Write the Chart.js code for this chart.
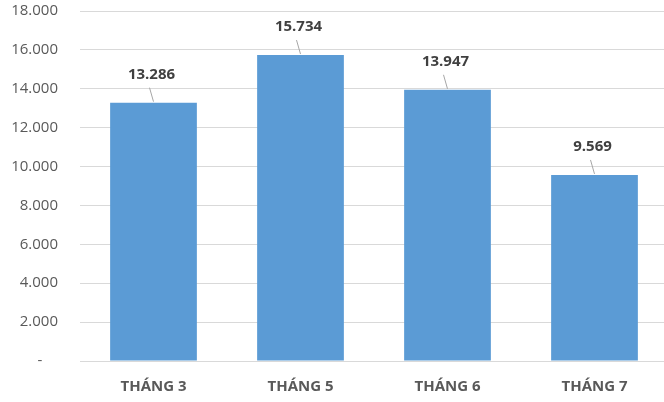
<!DOCTYPE html>
<html>
<head>
<meta charset="utf-8">
<script src="https://cdn.jsdelivr.net/npm/chart.js@4/dist/chart.umd.min.js"></script>
<style>
  html, body { margin: 0; padding: 0; background: #fff; overflow: hidden; }
  #wrap { width: 668px; height: 402px; }
</style>
</head>
<body>
<div id="wrap"><canvas id="myChart"></canvas></div>
<script>
var months = ['THÁNG 3', 'THÁNG 5', 'THÁNG 6', 'THÁNG 7'];
var values = [13286, 15734, 13947, 9569];
var yTicks = [0, 2000, 4000, 6000, 8000, 10000, 12000, 14000, 16000, 18000];

function fmt(v) {
  if (v === 0) return '-    ';
  return v.toString().replace(/\B(?=(\d{3})+(?!\d))/g, '.');
}

// labels above bars with a short leader line, like excel
var barLabels = {
  id: 'barLabels',
  afterDatasetsDraw: function(chart) {
    var ctx = chart.ctx;
    var meta = chart.getDatasetMeta(0);
    ctx.save();
    ctx.font = 'bold 15px "Open Sans", sans-serif';
    ctx.fillStyle = '#404040';
    ctx.textAlign = 'center';
    ctx.textBaseline = 'middle';
    for (var i = 0; i < meta.data.length; i++) {
      var bar = meta.data[i];
      var ly = bar.y - 28;
      ctx.fillText(fmt(values[i]), bar.x - 2, ly);
      ctx.strokeStyle = '#a6a6a6';
      ctx.lineWidth = 1;
      ctx.beginPath();
      ctx.moveTo(bar.x - 4, ly + 13);
      ctx.lineTo(bar.x, bar.y - 1);
      ctx.stroke();
    }
    ctx.restore();
  }
};

var ctx = document.getElementById('myChart').getContext('2d');
var chart = new Chart(ctx, {
  type: 'bar',
  data: {
    labels: months,
    datasets: [{
      data: values,
      backgroundColor: '#5b9bd5',
      borderWidth: 0,
      barPercentage: 0.59,
      categoryPercentage: 1
    }]
  },
  options: {
    responsive: true,
    maintainAspectRatio: false,
    animation: false,
    layout: { padding: { top: 11, right: 0, left: 0, bottom: 0 } },
    plugins: { legend: { display: false }, tooltip: { enabled: false } },
    scales: {
      x: {
        grid: { display: false },
        border: { display: false },
        ticks: {
          color: '#595959',
          font: { family: '"Open Sans", sans-serif', size: 15, weight: 'bold' },
          padding: 9
        },
        afterFit: function(s) { s.height = 41; }
      },
      y: {
        min: 0,
        max: 18000,
        afterBuildTicks: function(s) { s.ticks = yTicks.map(function(v) { return { value: v }; }); },
        grid: { color: '#d9d9d9', lineWidth: 1, drawTicks: false },
        border: { display: false },
        ticks: {
          color: '#595959',
          font: { family: '"Open Sans", sans-serif', size: 15 },
          padding: 22,
          callback: function(v) { return fmt(v); }
        },
        afterFit: function(s) { s.width = 80; s.paddingTop = 0; s.paddingBottom = 0; }
      }
    }
  },
  plugins: [barLabels]
});
</script>
</body>
</html>
